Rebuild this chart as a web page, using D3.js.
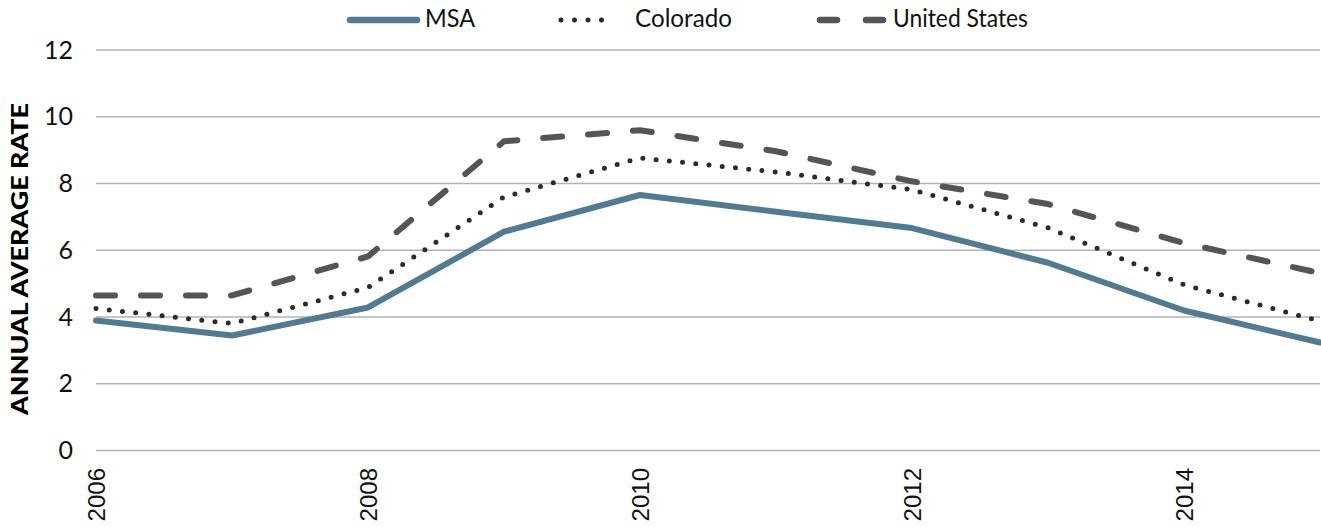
<!DOCTYPE html>
<html><head><meta charset="utf-8">
<script src="https://cdn.jsdelivr.net/npm/d3@7"></script>
<style>body{margin:0;background:#fff}svg{display:block}</style>
</head><body>
<svg id="c" width="1321" height="527"></svg>
<script>
const years = [2006,2007,2008,2009,2010,2011,2012,2013,2014,2015];
const msa = [3.88,3.43,4.27,6.54,7.64,7.14,6.65,5.61,4.18,3.22];
const colorado = [4.24,3.79,4.87,7.58,8.75,8.33,7.8,6.66,4.95,3.86];
const unitedStates = [4.63,4.63,5.8,9.25,9.58,8.95,8.05,7.37,6.2,5.3];
const yTicks = [0,2,4,6,8,10,12];
const xTicks = [2006,2008,2010,2012,2014];
const seriesNames = ["MSA","Colorado","United States"];

const svg = d3.select("#c");
const x = d3.scaleLinear().domain([2006,2015]).range([96,1320]);
const y = d3.scaleLinear().domain([0,12]).range([450,49.5]);

// gridlines
const yAxis = d3.axisLeft(y).tickValues(yTicks).tickSize(-(1320-96)).tickFormat(d3.format("d"));
const gy = svg.append("g").attr("transform","translate(96,0)").call(yAxis);
gy.select(".domain").remove();
gy.selectAll(".tick line").attr("stroke","#b3b3b3").attr("stroke-width",1.5);
gy.selectAll(".tick text").attr("font-family","Lato, 'Open Sans', sans-serif").attr("font-size",25).attr("fill","#111").attr("x",-23).attr("dy","0.34em");

// x axis
const xAxis = d3.axisBottom(x).tickValues(xTicks).tickSize(0).tickFormat(d3.format("d"));
const gx = svg.append("g").attr("transform","translate(0,450)").call(xAxis);
gx.select(".domain").remove();
gx.selectAll(".tick text")
  .attr("font-family","'Liberation Sans', Arial, sans-serif").attr("font-size",24).attr("fill","#111")
  .attr("transform","rotate(-90)").attr("text-anchor","end").attr("x",-18).attr("y",0).attr("dy","0.36em");

// axis title
svg.append("text").attr("transform","translate(20,259) rotate(-90)")
  .attr("text-anchor","middle").attr("dy","0.36em").attr("font-family","Lato, 'Open Sans', sans-serif")
  .attr("font-weight",900).attr("font-size",22).attr("fill","#000")
  .attr("textLength",312).attr("lengthAdjust","spacingAndGlyphs")
  .text("ANNUAL AVERAGE RATE");

const line = d3.line().x((d,i)=>x(years[i])).y(d=>y(d));
const styles = [
  {data: msa, stroke:"#527b91", width:6, dash:null},
  {data: colorado, stroke:"#2b2b2b", width:5, dash:"0 13.3"},
  {data: unitedStates, stroke:"#555555", width:6, dash:"19 26"}
];
[2,1,0].forEach(k=>{
  const s = styles[k];
  svg.append("path").datum(s.data).attr("d",line).attr("fill","none")
    .attr("stroke",s.stroke).attr("stroke-width",s.width)
    .attr("stroke-linecap","round").attr("stroke-linejoin","round")
    .attr("stroke-dasharray",s.dash);
});

// legend
const leg = svg.append("g");
const legItems = [
  {x1:350,x2:417,tx:425,len:50,dash:null},
  {x1:561,x2:615,tx:635,len:97,dash:"0 13.5"},
  {x1:820,x2:883,tx:893,len:135,dash:"17 29"}
];
legItems.forEach((l,i)=>{
  const s = styles[i];
  leg.append("line").attr("x1",l.x1).attr("x2",l.x2).attr("y1",20).attr("y2",20)
    .attr("stroke",s.stroke).attr("stroke-width",i===1?5:6.5).attr("stroke-linecap","round")
    .attr("stroke-dasharray",l.dash);
  leg.append("text").attr("x",l.tx).attr("y",18).attr("dy","0.35em")
    .attr("font-family","Lato, 'Open Sans', sans-serif").attr("font-size",25).attr("fill","#111")
    .attr("textLength",l.len).attr("lengthAdjust","spacingAndGlyphs")
    .text(seriesNames[i]);
});
</script>
</body></html>
